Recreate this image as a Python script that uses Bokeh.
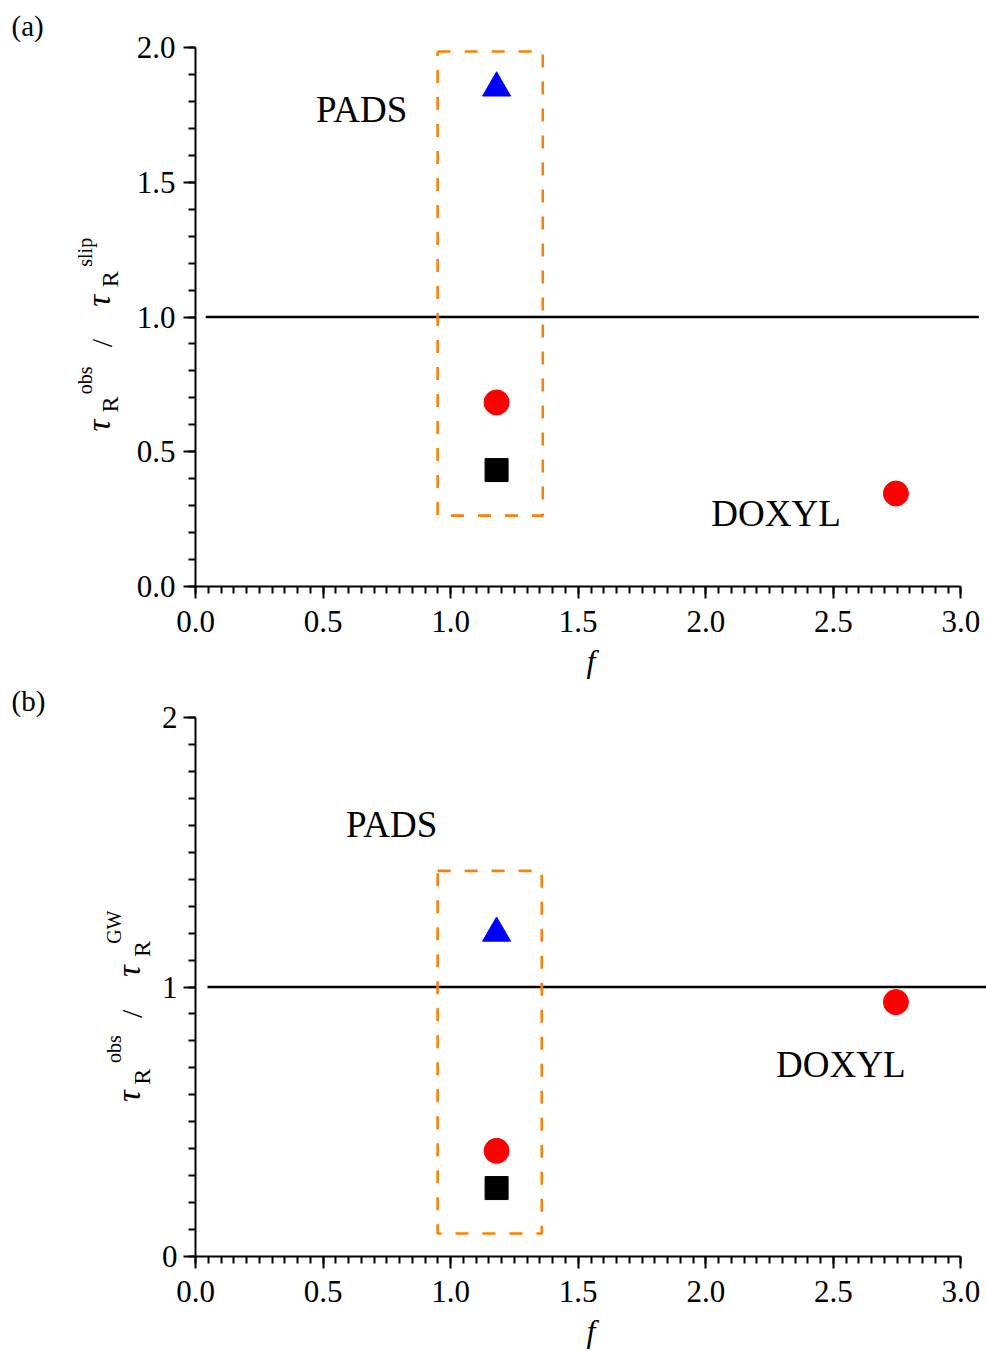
import math

from bokeh.embed import file_html
from bokeh.layouts import column, row
from bokeh.models import FixedTicker, Label, PrintfTickFormatter, Range1d
from bokeh.plotting import figure
from bokeh.resources import INLINE

# ---- data -------------------------------------------------------------
# probe positions along f
f_pads = [1.18]
f_doxyl = [2.745]

# (a) tau_R^obs / tau_R^slip
a_pads_triangle = [1.85]
a_pads_circle = [0.683]
a_pads_square = [0.432]
a_doxyl_circle = [0.345]

# (b) tau_R^obs / tau_R^GW
b_pads_triangle = [1.20]
b_pads_circle = [0.392]
b_pads_square = [0.254]
b_doxyl_circle = [0.944]

# unity reference line
a_ref_x = [0.04, 3.07]
b_ref_x = [0.047, 3.11]
ref_y = [1.0, 1.0]

# dashed box around the PADS group: (x0, x1, y0, y1)
a_box = (0.949, 1.361, 0.263, 1.985)
b_box = (0.949, 1.357, 0.0855, 1.431)

x_major = [0.0, 0.5, 1.0, 1.5, 2.0, 2.5, 3.0]
x_minor = [round(i * 0.05, 2) for i in range(61)]
a_y_major = [0.0, 0.5, 1.0, 1.5, 2.0]
b_y_major = [0, 1, 2]
y_minor = [round(i * 0.1, 1) for i in range(21)]

SERIF = "Liberation Serif"
FRAME_W = 791
FRAME_H = 539
LEFT_EDGE = 195    # page x of the y axis


def make_title_strip(letter, sup, strip_w, xs, ys, top, bottom, title_standoff):
    """Narrow canvas left of a panel carrying its letter and y-axis title."""
    s = figure(width=strip_w, height=top + FRAME_H + bottom,
               x_range=Range1d(0, strip_w), y_range=Range1d(0, 2),
               x_axis_type=None, y_axis_type=None,
               output_backend="svg", toolbar_location=None,
               min_border_left=0, min_border_right=0,
               min_border_top=top, min_border_bottom=bottom,
               outline_line_color=None,
               background_fill_color="white", border_fill_color="white")
    s.xgrid.visible = False
    s.ygrid.visible = False

    s.title.text = letter
    s.title.align = "left"
    s.title.offset = 11
    s.title.standoff = title_standoff
    s.title.text_font = SERIF
    s.title.text_font_size = "29px"
    s.title.text_font_style = "normal"
    s.title.text_color = "black"

    xt, xr, xo = xs
    yt1, yr1, yo, ysl, yt2, yr2, ysp = ys
    pieces = [
        ("\u03c4", xt, yt1, "33px", "italic"),
        ("R", xr, yr1, "24px", "normal"),
        ("obs", xo, yo, "20px", "normal"),
        ("/", xt + 3, ysl, "30px", "normal"),
        ("\u03c4", xt, yt2, "33px", "italic"),
        ("R", xr, yr2, "24px", "normal"),
        (sup, xo, ysp, "20px", "normal"),
    ]
    for txt, lx, ly, size, style in pieces:
        s.add_layout(Label(x=lx, y=ly, text=txt, text_font=SERIF,
                           text_font_size=size, text_font_style=style,
                           angle=math.pi / 2, text_align="center",
                           text_baseline="middle", text_color="black"))
    return s


def make_panel(y_major, y_fmt, ref_x, box, tri, circ, sq, dox,
               pads_xy, doxyl_xy, left, top, bottom, y_standoff):
    p = figure(
        frame_width=FRAME_W, frame_height=FRAME_H,
        x_range=Range1d(0, 3.10), y_range=Range1d(0, 2),
        output_backend="svg", toolbar_location=None,
        min_border_left=left, min_border_right=0, min_border_top=top,
        min_border_bottom=bottom,
        background_fill_color="white", border_fill_color="white",
        outline_line_color=None,
    )
    p.xgrid.visible = False
    p.ygrid.visible = False

    for ax, bnds in ((p.xaxis[0], (0, 3)), (p.yaxis[0], (0, 2))):
        ax.bounds = bnds
        ax.axis_line_width = 2
        ax.major_tick_line_width = 2
        ax.minor_tick_line_width = 2
        ax.major_tick_in = 0
        ax.major_tick_out = 12
        ax.minor_tick_in = 0
        ax.minor_tick_out = 7
        ax.major_label_text_font = SERIF
        ax.major_label_text_font_size = "31px"
        ax.major_label_text_color = "black"

    p.xaxis.ticker = FixedTicker(ticks=x_major, minor_ticks=x_minor)
    p.xaxis.formatter = PrintfTickFormatter(format="%.1f")
    p.xaxis.major_label_standoff = 12
    p.xaxis.axis_label = "f"
    p.xaxis.axis_label_text_font = SERIF
    p.xaxis.axis_label_text_font_style = "italic"
    p.xaxis.axis_label_text_font_size = "32px"
    p.xaxis.axis_label_text_color = "black"
    p.xaxis.axis_label_standoff = 8

    p.yaxis.ticker = FixedTicker(ticks=y_major, minor_ticks=y_minor)
    p.yaxis.formatter = PrintfTickFormatter(format=y_fmt)
    p.yaxis.major_label_standoff = y_standoff

    # unity line
    p.line(ref_x, ref_y, line_color="black", line_width=2.5)

    # dashed box around PADS
    x0, x1, y0, y1 = box
    p.line([x0, x1, x1, x0, x0], [y1, y1, y0, y0, y1], line_color="#ff8000",
           line_width=2.6, line_dash="13 14")

    # markers
    p.scatter(f_pads, tri, marker="triangle", size=28, fill_color="blue",
              line_color="blue")
    p.scatter(f_pads, circ, marker="circle", size=25, fill_color="red",
              line_color="red")
    p.scatter(f_pads, sq, marker="square", size=23, fill_color="black",
              line_color="black")
    p.scatter(f_doxyl, dox, marker="circle", size=25, fill_color="red",
              line_color="red")

    # group labels
    for txt, (tx, ty) in (("PADS", pads_xy), ("DOXYL", doxyl_xy)):
        p.add_layout(Label(x=tx, y=ty, text=txt, text_font=SERIF,
                           text_font_size="37px", text_align="center",
                           text_baseline="middle", text_color="black"))
    return p


# border sizes (px) so that frames sit at page y 47..586 and 717..1256
A_TOP, A_BOTTOM = 47, 95
B_TOP, B_BOTTOM = 36, 95
A_STRIP, B_STRIP = 130, 155

pa = make_panel(a_y_major, "%.1f", a_ref_x, a_box,
                a_pads_triangle, a_pads_circle, a_pads_square, a_doxyl_circle,
                (0.651, 1.77), (2.275, 0.271),
                LEFT_EDGE - A_STRIP, A_TOP, A_BOTTOM, 8)
pb = make_panel(b_y_major, "%d", b_ref_x, b_box,
                b_pads_triangle, b_pads_circle, b_pads_square, b_doxyl_circle,
                (0.769, 1.602), (2.529, 0.714),
                LEFT_EDGE - B_STRIP, B_TOP, B_BOTTOM, 6)

sa = make_title_strip("(a)", "slip", A_STRIP, (98, 109, 84),
                      (0.597, 0.675, 0.765, 0.903, 1.060, 1.140, 1.240),
                      A_TOP, A_BOTTOM, 11)
sb = make_title_strip("(b)", "GW", B_STRIP, (128, 141, 113),
                      (0.595, 0.667, 0.770, 0.900, 1.059, 1.141, 1.222),
                      B_TOP, B_BOTTOM, 2)

layout = column(row(sa, pa, spacing=0), row(sb, pb, spacing=0), spacing=0)
open("out.html", "w").write(file_html(layout, INLINE))
